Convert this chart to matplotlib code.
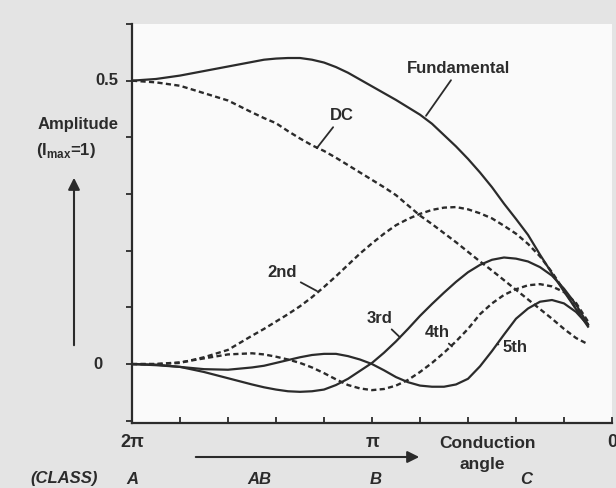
import matplotlib
matplotlib.use("Agg")
import matplotlib.pyplot as plt
import numpy as np

# conduction angle, in units of pi (2 = class A ... 0)
angle = [2.0, 1.9, 1.8, 1.7, 1.6, 1.5, 1.45, 1.4, 1.35, 1.3, 1.25, 1.2, 1.15, 1.1,
         1.05, 1.0, 0.95, 0.9, 0.85, 0.8, 0.75, 0.7, 0.65, 0.6, 0.55, 0.5, 0.45,
         0.4, 0.35, 0.3, 0.25, 0.2, 0.15, 0.1]

# amplitudes (Imax = 1)
fundamental = [0.500, 0.503, 0.509, 0.517, 0.525, 0.533, 0.537, 0.539, 0.540, 0.540,
               0.537, 0.532, 0.524, 0.514, 0.502, 0.490, 0.478, 0.466, 0.453, 0.440,
               0.424, 0.404, 0.384, 0.362, 0.338, 0.312, 0.283, 0.256, 0.228, 0.193,
               0.160, 0.128, 0.097, 0.066]
dc = [0.500, 0.497, 0.491, 0.478, 0.465, 0.444, 0.434, 0.425, 0.411, 0.398,
      0.386, 0.376, 0.364, 0.351, 0.338, 0.325, 0.312, 0.298, 0.280, 0.262,
      0.247, 0.231, 0.215, 0.198, 0.181, 0.165, 0.148, 0.131, 0.114, 0.097,
      0.080, 0.062, 0.046, 0.035]
second = [0.000, 0.000, 0.002, 0.012, 0.025, 0.050, 0.062, 0.075, 0.088, 0.102,
          0.118, 0.136, 0.155, 0.175, 0.195, 0.213, 0.230, 0.245, 0.256, 0.265,
          0.272, 0.276, 0.277, 0.273, 0.266, 0.257, 0.244, 0.230, 0.212, 0.190,
          0.162, 0.130, 0.098, 0.070]
third = [0.000, -0.001, -0.005, -0.014, -0.025, -0.036, -0.041, -0.045, -0.048, -0.049,
         -0.048, -0.045, -0.037, -0.026, -0.012, 0.002, 0.020, 0.040, 0.062, 0.085,
         0.106, 0.126, 0.145, 0.162, 0.175, 0.184, 0.188, 0.186, 0.181, 0.171,
         0.156, 0.133, 0.105, 0.070]
fourth = [0.000, 0.000, 0.003, 0.010, 0.017, 0.019, 0.017, 0.013, 0.008, 0.002,
          -0.006, -0.016, -0.027, -0.037, -0.043, -0.046, -0.044, -0.038, -0.028, -0.014,
          0.002, 0.020, 0.040, 0.062, 0.088, 0.107, 0.122, 0.132, 0.139, 0.141,
          0.137, 0.127, 0.108, 0.075]
fifth = [0.000, -0.002, -0.005, -0.009, -0.010, -0.006, -0.003, 0.002, 0.007, 0.012,
         0.016, 0.018, 0.018, 0.014, 0.008, 0.000, -0.011, -0.023, -0.032, -0.038,
         -0.040, -0.040, -0.036, -0.026, -0.004, 0.023, 0.052, 0.080, 0.098, 0.110,
         0.113, 0.107, 0.092, 0.069]

ink = "#2b2b2b"
dash = (0, (2.2, 1.4))

fig = plt.figure(figsize=(6.16, 4.88), dpi=100, facecolor="#e4e4e4")
ax = fig.add_axes([132/616, 1 - 423/488, 480/616, 399/488])
ax.set_facecolor("#fafafa")

ax.plot(angle, fundamental, color=ink, lw=1.6)
ax.plot(angle, dc, color=ink, lw=1.7, ls=dash)
ax.plot(angle, second, color=ink, lw=1.7, ls=dash)
ax.plot(angle, third, color=ink, lw=1.6)
ax.plot(angle, fourth, color=ink, lw=1.7, ls=dash)
ax.plot(angle, fifth, color=ink, lw=1.6)

ax.set_xlim(2.0, 0.0)
ax.set_ylim(-0.104, 0.599)
for s in ["top", "right"]:
    ax.spines[s].set_visible(False)
for s in ["left", "bottom"]:
    ax.spines[s].set_linewidth(1.6)
    ax.spines[s].set_color(ink)

ax.set_yticks(np.arange(-0.1, 0.61, 0.1))
ax.set_yticklabels([])
ax.tick_params(axis="y", direction="out", length=4, width=1.3, color=ink)
ax.set_xticks(np.arange(0, 2.01, 0.2))
ax.set_xticklabels(["0", "", "", "", "", "π", "", "", "", "", "2π"],
                   fontfamily="Liberation Sans", fontweight="bold", fontsize=13, color=ink)
ax.tick_params(axis="x", direction="in", length=4, width=1.3, color=ink, pad=8)

font = dict(family="Liberation Sans", weight="bold", color=ink)
ax.text(-0.029, 0.5, "0.5", transform=ax.get_yaxis_transform(), ha="right", va="center", fontsize=12, **font)
ax.text(-0.062, 0.0, "0", transform=ax.get_yaxis_transform(), ha="right", va="center", fontsize=12, **font)

# curve labels with leader lines
lead = dict(arrowstyle="-", color=ink, lw=1.3, shrinkA=1, shrinkB=0)
lab_size = 12
ax.annotate("Fundamental", xy=(0.775, 0.438), xytext=(0.6375, 0.521), ha="center", va="center",
            fontsize=lab_size, arrowprops=lead, **font)
ax.annotate("DC", xy=(1.23, 0.381), xytext=(1.125, 0.438), ha="center", va="center",
            fontsize=lab_size, arrowprops=lead, **font)
ax.annotate("2nd", xy=(1.23, 0.129), xytext=(1.375, 0.162), ha="center", va="center",
            fontsize=lab_size, arrowprops=lead, **font)
ax.annotate("3rd", xy=(0.883, 0.047), xytext=(0.967, 0.081), ha="center", va="center",
            fontsize=lab_size, arrowprops=lead, **font)
ax.annotate("4th", xy=(0.667, 0.031), xytext=(0.729, 0.056), ha="center", va="center",
            fontsize=lab_size, arrowprops=lead, **font)
ax.annotate("5th", xy=(0.479, 0.035), xytext=(0.404, 0.030), ha="center", va="center",
            fontsize=lab_size, arrowprops=lead, **font)

# y axis title and arrow
fig.text(78/616, 1 - 125/488, "Amplitude", ha="center", va="center", fontsize=12, **font)
fig.text(66/616, 1 - 150/488, r"(I$_{\mathregular{max}}$=1)", ha="center", va="center", fontsize=12, **font)
fig.add_artist(matplotlib.patches.FancyArrowPatch((74/616, 1 - 348/488), (74/616, 1 - 175/488),
               transform=fig.transFigure, arrowstyle="-|>,head_length=7,head_width=3.5",
               color=ink, lw=1.5))

# x axis title, class row and arrow
fig.text(488/616, 1 - 443/488, "Conduction", ha="center", va="center", fontsize=12.5, **font)
fig.text(482/616, 1 - 465/488, "angle", ha="center", va="center", fontsize=12.5, **font)
fig.add_artist(matplotlib.patches.FancyArrowPatch((193/616, 1 - 457/488), (422/616, 1 - 457/488),
               transform=fig.transFigure, arrowstyle="-|>,head_length=7,head_width=3.5",
               color=ink, lw=1.5))

italic = dict(family="Liberation Sans", weight="bold", style="italic", color=ink, fontsize=12)
classes = ["(CLASS)", "A", "AB", "B", "C"]
class_x = [64, 132, 259, 376, 526]
for lab, cx in zip(classes, class_x):
    fig.text(cx/616, 1 - 479/488, lab, ha="center", va="center", **italic)

fig.savefig("out.png", dpi=100, facecolor=fig.get_facecolor())
